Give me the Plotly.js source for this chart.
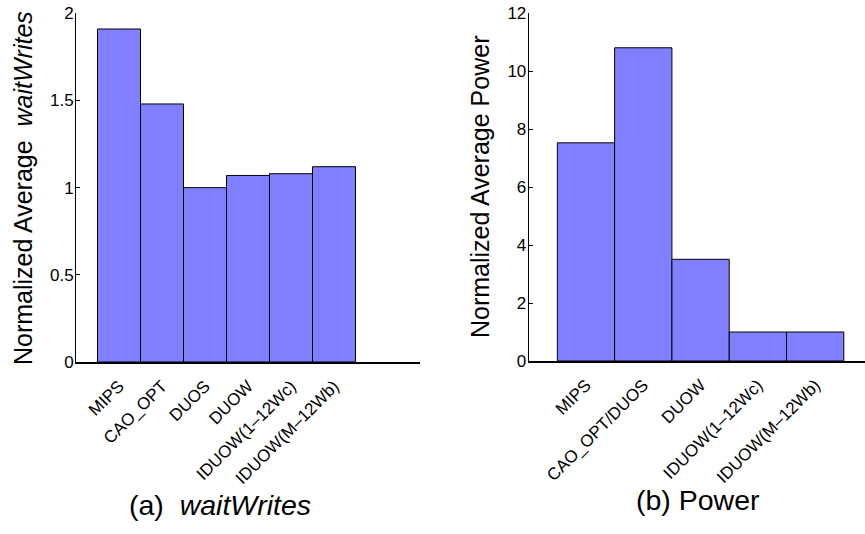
<!DOCTYPE html>
<html>
<head>
<meta charset="utf-8">
<script src="https://cdn.plot.ly/plotly-3.0.1.min.js"></script>
<style>html,body{margin:0;padding:0;background:#fff}#chart{width:865px;height:534px}</style>
</head>
<body>
<div id="chart"></div>
<script>
const catsA = ["MIPS", "CAO_OPT", "DUOS", "DUOW", "IDUOW(1\u201312Wc)", "IDUOW(M\u201312Wb)"];
const valsA = [1.91, 1.48, 1.0, 1.07, 1.08, 1.12];
const catsB = ["MIPS", "CAO_OPT/DUOS", "DUOW", "IDUOW(1\u201312Wc)", "IDUOW(M\u201312Wb)"];
const valsB = [7.53, 10.81, 3.51, 1.0, 1.0];
const ticksA = [0, 0.5, 1, 1.5, 2];
const ticksB = [0, 2, 4, 6, 8, 10, 12];

const W = 865, H = 534;
const posA = catsA.map((c, i) => i + 1);
const posB = catsB.map((c, i) => i + 1);
const font = "Liberation Sans, Arial, sans-serif";
const barStyle = {color: "#8080ff", line: {color: "#000", width: 1}};

const traces = [
  {type: "bar", x: posA, y: valsA, width: 1, marker: barStyle, xaxis: "x", yaxis: "y", hoverinfo: "skip"},
  {type: "bar", x: posB, y: valsB, width: 1, marker: barStyle, xaxis: "x2", yaxis: "y2", hoverinfo: "skip"}
];

const xCommon = {showline: true, linecolor: "#000", linewidth: 1.5, ticks: "", showgrid: false, zeroline: false,
  tickangle: -45, ticklabelstandoff: 6, tickfont: {family: font, size: 17, color: "#000"}, tickmode: "array"};
const yCommon = {showline: true, linecolor: "#000", linewidth: 1, ticks: "inside", ticklen: 4, tickcolor: "#000",
  ticklabelstandoff: -2, showgrid: false, zeroline: false, tickfont: {family: font, size: 17, color: "#000"}, tickmode: "array"};

const layout = {
  width: W, height: H,
  margin: {l: 0, r: 0, t: 0, b: 0},
  paper_bgcolor: "#fff", plot_bgcolor: "#fff",
  showlegend: false,
  font: {family: font, color: "#000"},
  xaxis: Object.assign({}, xCommon, {domain: [76 / W, 420 / W], range: [0, 8], tickvals: posA, ticktext: catsA, anchor: "y"}),
  yaxis: Object.assign({}, yCommon, {domain: [1 - 362 / H, 1 - 13.3 / H], range: [0, 2], tickvals: ticksA, ticktext: ticksA.map(String), anchor: "x"}),
  xaxis2: Object.assign({}, xCommon, {domain: [528.7 / W, 1], range: [0, 5.87], tickvals: posB, ticktext: catsB, anchor: "y2"}),
  yaxis2: Object.assign({}, yCommon, {domain: [1 - 361 / H, 1 - 13.3 / H], range: [0, 12], tickvals: ticksB, ticktext: ticksB.map(String), anchor: "x2"}),
  annotations: [
    {text: "Normalized Average  <i>waitWrites</i>", xref: "paper", yref: "paper", x: 23 / W, y: 1 - 188 / H,
      textangle: -90, showarrow: false, xanchor: "center", yanchor: "middle", font: {family: font, size: 25, color: "#000"}},
    {text: "Normalized Average Power", xref: "paper", yref: "paper", x: 480 / W, y: 1 - 187 / H,
      textangle: -90, showarrow: false, xanchor: "center", yanchor: "middle", font: {family: font, size: 25, color: "#000"}},
    {text: "(a)  <i>waitWrites</i>", xref: "paper", yref: "paper", x: 220 / W, y: 1 - 505 / H,
      showarrow: false, xanchor: "center", yanchor: "middle", font: {family: font, size: 28.5, color: "#000"}},
    {text: "(b) Power", xref: "paper", yref: "paper", x: 698 / W, y: 1 - 500 / H,
      showarrow: false, xanchor: "center", yanchor: "middle", font: {family: font, size: 28.5, color: "#000"}}
  ]
};

Plotly.newPlot("chart", traces, layout, {staticPlot: true, displayModeBar: false});
</script>
</body>
</html>
